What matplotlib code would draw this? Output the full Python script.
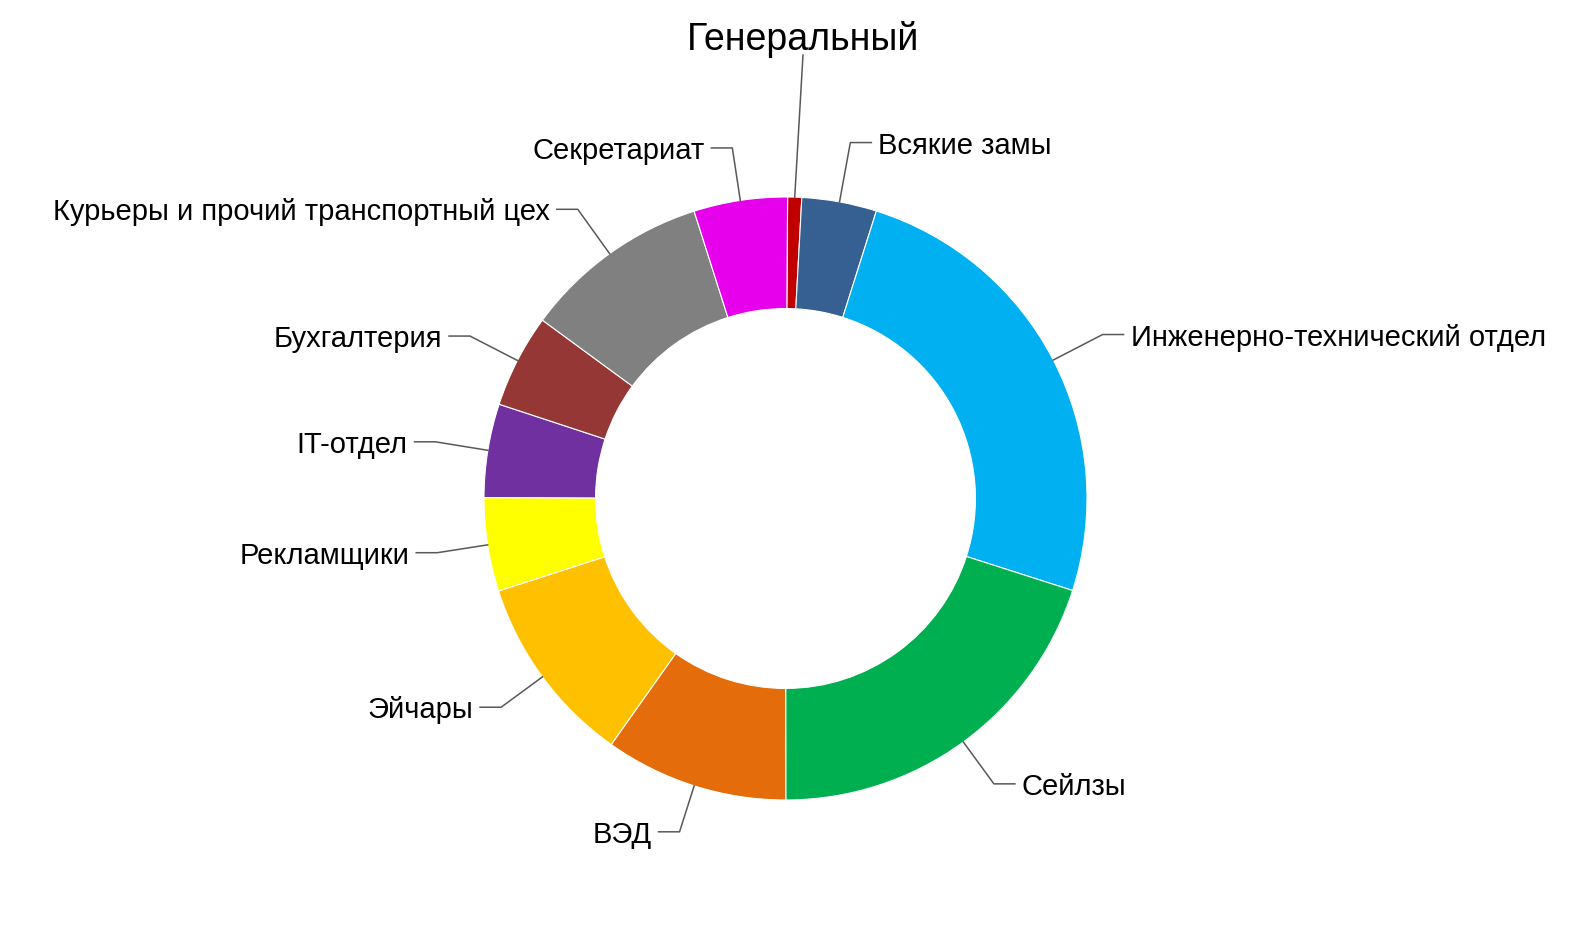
import numpy as np
import matplotlib.pyplot as plt

plt.rcParams['font.family'] = ['Liberation Sans', 'DejaVu Sans']

labels = ['Генеральный', 'Всякие замы', 'Инженерно-технический отдел', 'Сейлзы',
          'ВЭД', 'Эйчары', 'Рекламщики', 'IT-отдел', 'Бухгалтерия',
          'Курьеры и прочий транспортный цех', 'Секретариат']
values = [0.75, 4.0, 25, 20, 9.8, 10.2, 5, 5, 5, 10, 5]
colors = ['#C00000', '#376092', '#00B0F0', '#00B050', '#E46C0A', '#FFC000',
          '#FFFF00', '#7030A0', '#953735', '#808080', '#E600EC']

W, H = 1571, 936
cx, cy, R = 785.5, 498.5, 301.5

fig = plt.figure(figsize=(W / 100, H / 100), dpi=100)
ax = fig.add_axes([0, 0, 1, 1])

start = 0.4  # degrees clockwise from 12 o'clock
wedges, _ = ax.pie(values, colors=colors, startangle=90 - start, counterclock=False,
                   radius=1.0, wedgeprops=dict(width=0.37, edgecolor='white', linewidth=0.8))

ax.set_xlim(-cx / R, (W - cx) / R)
ax.set_ylim(-(H - cy) / R, cy / R)
ax.set_aspect('equal')
ax.axis('off')

# radius of the leader elbow for each label (the first one is placed by hand)
elbow_r = [None, 1.20, 1.184, 1.172, 1.16, 1.17, 1.169, 1.176, 1.177, 1.181, 1.176]

line_c = '#595959'
total = sum(values)
cum = start
for lab, v, r1 in zip(labels, values, elbow_r):
    mid = cum + v / total * 360 / 2
    cum += v / total * 360
    a = np.deg2rad(mid)
    x0, y0 = np.sin(a), np.cos(a)
    if r1 is None:
        xe, ye = 17.5 / R, (cy - 55) / R
        ax.plot([x0, xe], [y0, ye], color=line_c, lw=1.1)
        ax.text(xe, (cy - 50) / R, lab, fontsize=27, ha='center', va='baseline')
        continue
    x1, y1 = r1 * np.sin(a), r1 * np.cos(a)
    side = 1 if x1 > 0 else -1
    x2 = x1 + side * 21 / R
    ax.plot([x0, x1, x2], [y0, y1, y1], color=line_c, lw=1.1)
    ax.text(x2 + side * 7 / R, y1, lab, fontsize=21,
            ha='left' if side > 0 else 'right', va='center_baseline')

fig.savefig('out.png', dpi=100)
